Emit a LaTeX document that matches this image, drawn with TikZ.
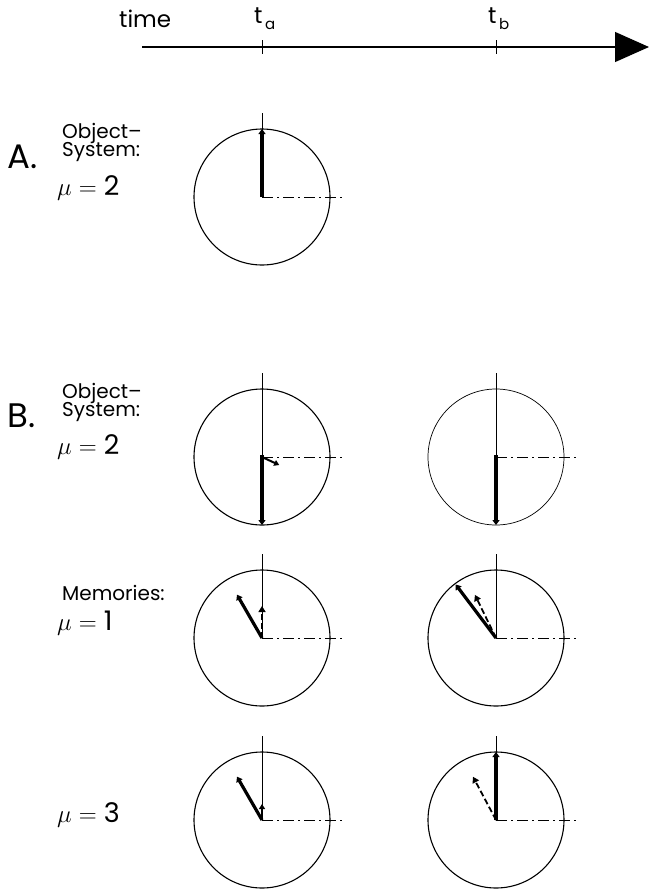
\documentclass[tikz,border=0pt]{standalone}
\usepackage{fontspec}
\setmainfont{Poppins}
\usetikzlibrary{arrows.meta}
\begin{document}
\begin{tikzpicture}[x=1pt,y=1pt,
  face/.style={line width=1.1pt},
  refline/.style={line width=0.9pt},
  dashdot/.style={line width=0.9pt,dash pattern=on 11pt off 4pt on 2pt off 4pt},
  hand/.style={line width=3.2pt,-{Triangle[length=5pt,width=7pt]}},
  minihand/.style={line width=2pt,-{Triangle[length=5pt,width=6pt]}},
  oldhand/.style={line width=1.8pt,dash pattern=on 6pt off 3pt,-{Triangle[length=6pt,width=7pt]}},
  label/.style={anchor=west,inner sep=0pt,font=\fontsize{20}{22}\selectfont},
  mulabel/.style={anchor=west,inner sep=0pt,font=\fontsize{27}{29}\selectfont},
  bigletter/.style={anchor=west,inner sep=0pt,font=\fontsize{34}{36}\selectfont}]

\useasboundingbox (0,0) rectangle (649,-892);

% Time axis
\coordinate (t0) at (142,-47);
\coordinate (tend) at (649,-47);
\coordinate (ta) at (262,-47);
\coordinate (tb) at (496,-47);
\draw[line width=1.2pt,-{Triangle[length=34pt,width=30pt]}] (t0) -- (tend);
\foreach \t in {ta,tb}
{
\draw[line width=1pt] ([yshift=7pt]\t) -- ([yshift=-7pt]\t);
}
\node[label,font=\fontsize{23}{25}\selectfont] (time) at (119,-19) {time};
\node[label,font=\fontsize{23}{25}\selectfont] (labta) at (254,-19) {t\raisebox{-6pt}{\fontsize{15}{15}\selectfont\,a}};
\node[label,font=\fontsize{23}{25}\selectfont] (labtb) at (488,-19) {t\raisebox{-6pt}{\fontsize{15}{15}\selectfont\,b}};

% Clock centres
\coordinate (A) at (262,-197);
\coordinate (Ba) at (262,-457);
\coordinate (Bb) at (496,-457);
\coordinate (Ma) at (262,-638);
\coordinate (Mb) at (496,-638);
\coordinate (Na) at (262,-820);
\coordinate (Nb) at (496,-820);

% Faces
\foreach \c in {A,Ba,Ma,Mb,Na,Nb}
{
\draw[face] (\c) circle (68);
}
\draw[line width=0.7pt] (Bb) circle (68);

\foreach \c in {A,Ba,Bb,Ma,Mb,Na,Nb}
{
\draw[refline] (\c) -- ++(90:84);
\draw[dashdot] (\c) -- ++(0:82);
}

% A. Object-System
\node[bigletter] (labA) at (7,-157) {A.};
\node[label] (objA) at (62,-133) {Object--};
\node[label] (sysA) at (62,-152) {System:};
\node[mulabel] (muA) at (57,-188) {$\mu=$ 2};
\draw[hand] (A) -- ++(90:68);

% B. Object-System
\node[bigletter] (labB) at (7,-416) {B.};
\node[label] (objB) at (62,-393) {Object--};
\node[label] (sysB) at (62,-412) {System:};
\node[mulabel] (muB) at (57,-447) {$\mu=$ 2};
\draw[hand] ([yshift=2pt]Ba) -- ++(270:70);
\draw[minihand] (Ba) -- ++(-25:19);
\draw[hand] ([yshift=2pt]Bb) -- ++(270:70);

% Memories, mu = 1
\node[label] (mem) at (62,-593) {Memories:};
\node[mulabel] (muM) at (57,-623) {$\mu=$ 1};
\draw[hand] (Ma) -- ++(120:50);
\draw[oldhand] (Ma) -- ++(90:32);
\draw[hand] (Mb) -- ++(127:67);
\draw[oldhand] (Mb) -- ++(116:48);

% Memories, mu = 3
\node[mulabel] (muN) at (57,-815) {$\mu=$ 3};
\draw[hand] (Na) -- ++(120:50);
\draw[minihand] (Na) -- ++(90:16);
\draw[hand] (Nb) -- ++(90:68);
\draw[oldhand] (Nb) -- ++(118:49);

\end{tikzpicture}
\end{document}
